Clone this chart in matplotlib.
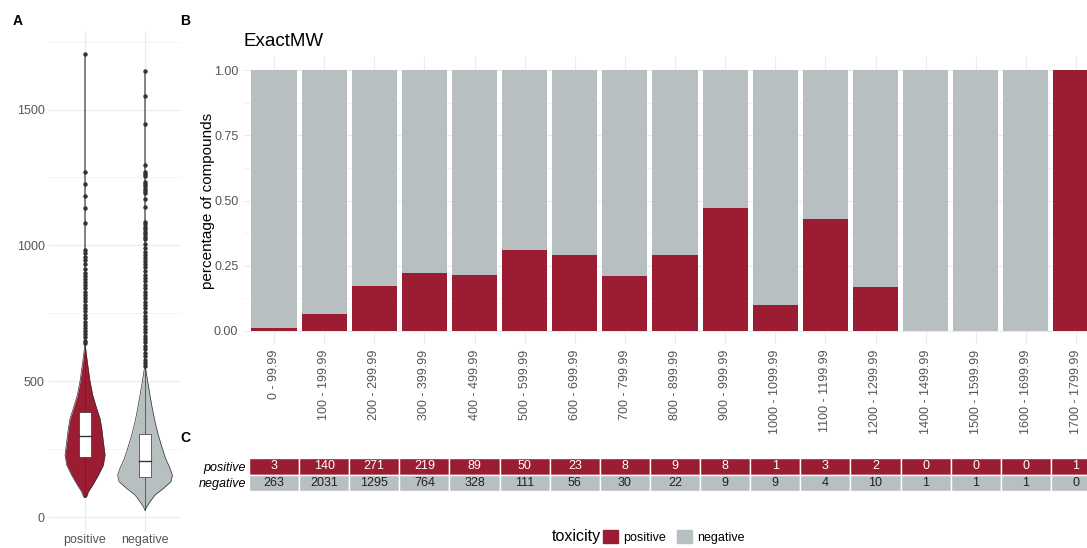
import numpy as np
from matplotlib import pyplot as plt
from matplotlib.patches import Patch

plt.rcParams['font.family'] = ['Liberation Sans', 'DejaVu Sans']

RED = '#9B1D33'
GREY = '#B7BFC1'
TICK = '#555555'
GRID = '#EBEBEB'

# ---- panel A : ExactMW distribution per class
groups = ['positive', 'negative']
pos_profile_y = [73, 75, 94, 119, 155, 192, 229, 278, 327, 363, 400, 449, 500, 571, 625, 645, 1705]
pos_profile_w = [0, 0.025, 0.055, 0.128, 0.222, 0.305, 0.333, 0.305, 0.278, 0.25, 0.195, 0.128, 0.083, 0.038, 0.008, 0, 0]
neg_profile_y = [26, 39, 57, 82, 106, 131, 155, 180, 216, 253, 302, 351, 400, 449, 500, 546, 565, 1641]
neg_profile_w = [0, 0.028, 0.083, 0.167, 0.306, 0.433, 0.456, 0.417, 0.344, 0.289, 0.222, 0.167, 0.122, 0.083, 0.044, 0.011, 0, 0]
# q1, median, q3, lower whisker, upper whisker
pos_box = [223, 298, 387, 73, 633]
neg_box = [147, 208, 308, 26, 550]
pos_outliers = [1705, 1270, 1227, 1182, 1138, 1083, 984, 971, 959, 946, 931, 915, 900, 888, 878,
                866, 855, 843, 830, 818, 806, 795, 782, 770, 758, 745, 733, 720, 708, 697, 685,
                673, 662, 650, 640]
neg_outliers = [1641, 1549, 1448, 1296, 1270, 1262, 1254, 1234, 1226, 1218, 1208, 1200, 1193, 1172,
                1141, 1086, 1078, 1069, 1059, 1050, 1041, 1032, 1023, 1005, 991, 976, 966, 952, 943,
                933, 920, 905, 892, 880, 868, 855, 842, 830, 818, 805, 793, 780, 768, 755, 742, 730,
                718, 705, 692, 680, 668, 655, 643, 630, 618, 605, 593, 580, 568, 556]

# ---- panel B / C : counts per molecular weight bin
bins = ['0 - 99.99', '100 - 199.99', '200 - 299.99', '300 - 399.99', '400 - 499.99',
        '500 - 599.99', '600 - 699.99', '700 - 799.99', '800 - 899.99', '900 - 999.99',
        '1000 - 1099.99', '1100 - 1199.99', '1200 - 1299.99', '1400 - 1499.99',
        '1500 - 1599.99', '1600 - 1699.99', '1700 - 1799.99']
positive = [3, 140, 271, 219, 89, 50, 23, 8, 9, 8, 1, 3, 2, 0, 0, 0, 1]
negative = [263, 2031, 1295, 764, 328, 111, 56, 30, 22, 9, 9, 4, 10, 1, 1, 1, 0]

W, H = 1087, 548
fig = plt.figure(figsize=(W / 100, H / 100), dpi=100)


def fx(px):
    return px / W


def fy(py):
    return 1 - py / H


# ---------------- panel A
axA = fig.add_axes([fx(49), fy(533), fx(132), 502 / H])
axA.set_xlim(0.4, 2.6)
axA.set_ylim(-58, 1789)
axA.set_yticks([0, 500, 1000, 1500])
axA.set_yticks([250, 750, 1250, 1750], minor=True)
axA.set_xticks([1, 2])
axA.set_xticklabels(groups)
axA.grid(True, which='major', color=GRID, lw=0.8)
axA.grid(True, which='minor', color=GRID, lw=0.4)
axA.set_axisbelow(True)
for s in axA.spines.values():
    s.set_visible(False)
axA.tick_params(which='both', length=0, labelsize=9, colors=TICK, pad=3)
axA.tick_params(axis='x', pad=1)

sets = [(pos_profile_y, pos_profile_w, pos_box, pos_outliers, RED),
        (neg_profile_y, neg_profile_w, neg_box, neg_outliers, GREY)]
for i, (py, pw, bx, outl, col) in enumerate(sets):
    c = i + 1
    py = np.array(py)
    pw = np.array(pw)
    axA.fill_betweenx(py, c - pw, c + pw, color=col, lw=0, zorder=2)
    axA.plot(c - pw, py, color='#333333', lw=0.5, zorder=3)
    axA.plot(c + pw, py, color='#333333', lw=0.5, zorder=3)
    q1, med, q3, lo, hi = bx
    axA.plot([c, c], [lo, hi], color='#333333', lw=0.5, zorder=3)
    axA.bar(c, q3 - q1, bottom=q1, width=0.19, color='white', edgecolor='#333333', lw=0.5, zorder=4)
    axA.plot([c - 0.095, c + 0.095], [med, med], color='#333333', lw=1.0, zorder=5)
    axA.plot([c] * len(outl), outl, 'o', color='#333333', ms=3.2, mew=0, zorder=5)

# ---------------- panel B
u = (1076 - 274) / 16
x = np.arange(len(bins))
pos = np.array(positive, dtype=float)
neg = np.array(negative, dtype=float)
frac = pos / (pos + neg)

axB = fig.add_axes([fx(274 - 0.6 * u), fy(344), fx(17.2 * u), 287 / H])
axB.set_xlim(-0.6, 16.6)
axB.set_ylim(-0.05, 1.05)
axB.bar(x, frac, width=0.9, color=RED, zorder=2)
axB.bar(x, 1 - frac, bottom=frac, width=0.9, color=GREY, zorder=2)
axB.set_yticks([0, 0.25, 0.5, 0.75, 1.0])
axB.set_yticklabels(['0.00', '0.25', '0.50', '0.75', '1.00'])
axB.set_yticks([0.125, 0.375, 0.625, 0.875], minor=True)
axB.set_xticks(x)
axB.set_xticklabels(bins, rotation=90, va='top')
axB.grid(True, which='major', color=GRID, lw=0.8)
axB.grid(True, which='minor', axis='y', color=GRID, lw=0.4)
axB.set_axisbelow(True)
for s in axB.spines.values():
    s.set_visible(False)
axB.tick_params(which='both', length=0, labelsize=9, colors=TICK, pad=4)
axB.set_ylabel('percentage of compounds', fontsize=11)
axB.yaxis.set_label_coords((208 - (274 - 0.6 * u)) / (17.2 * u), 0.5)
axB.yaxis.label.set_va('center')
axB.set_title('ExactMW', loc='left', fontsize=13.5, pad=8)

# ---------------- panel C
axC = fig.add_axes([fx(274 - 0.5 * u), fy(491), fx(17 * u), 33 / H])
axC.set_xlim(-0.5, 16.5)
axC.set_ylim(-0.5, 1.5)
axC.bar(x, 1, bottom=0.5, width=1, color=RED, edgecolor='white', lw=1)
axC.bar(x, 1, bottom=-0.5, width=1, color=GREY, edgecolor='white', lw=1)
for i in range(len(bins)):
    axC.text(x[i], 1, str(positive[i]), ha='center', va='center', fontsize=9, color='white')
    axC.text(x[i], 0, str(negative[i]), ha='center', va='center', fontsize=9, color='#222222')
axC.set_xticks([])
axC.set_yticks([0, 1])
axC.set_yticklabels(['negative', 'positive'], fontstyle='italic')
axC.tick_params(length=0, labelsize=9, colors='black', pad=2)
for s in axC.spines.values():
    s.set_visible(False)

# ---------------- panel letters
fig.text(fx(18), fy(21), 'A', fontsize=10, fontweight='bold', ha='center', va='center')
fig.text(fx(185), fy(21), 'B', fontsize=10, fontweight='bold', ha='center', va='center')
fig.text(fx(185), fy(438), 'C', fontsize=10, fontweight='bold', ha='center', va='center')

# ---------------- legend
fig.text(fx(552), fy(537), 'toxicity', fontsize=11.5, ha='left', va='center')
handles = [Patch(color=RED), Patch(color=GREY)]
fig.legend(handles, ['positive', 'negative'], loc='center left',
           bbox_to_anchor=(fx(603), fy(537)), ncol=2, frameon=False, fontsize=9,
           handlelength=1.2, handleheight=1.2, handletextpad=0.4, columnspacing=0.9,
           borderpad=0, borderaxespad=0)

fig.savefig('out.png', dpi=100)
